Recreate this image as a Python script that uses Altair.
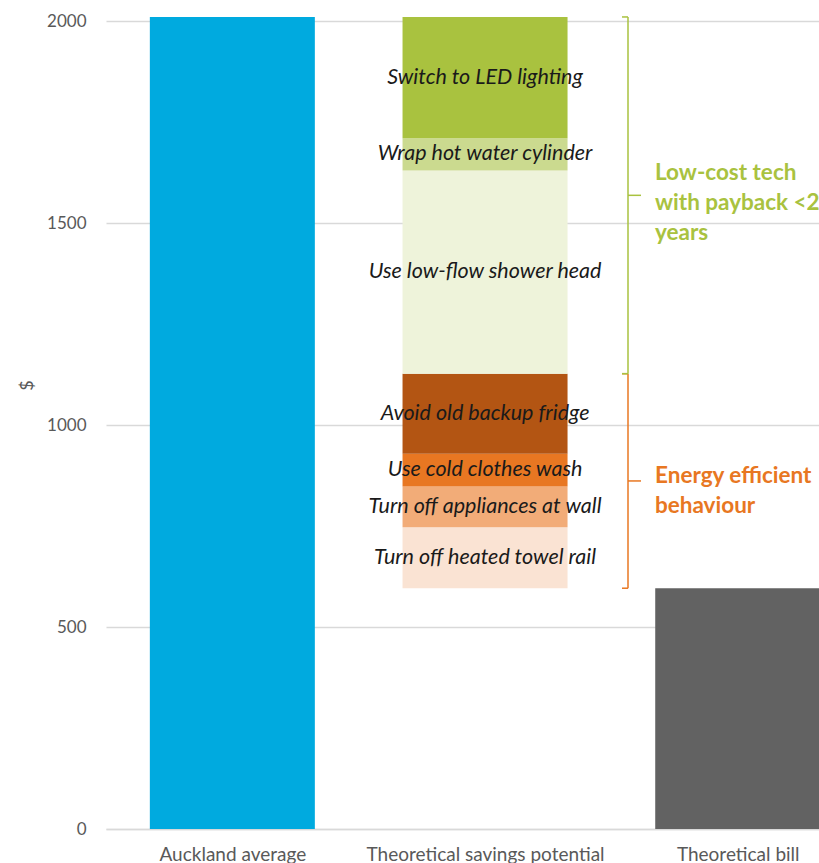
import altair as alt
import pandas as pd

# ---- data ----
categories = ["Auckland average", "Theoretical savings potential", "Theoretical bill"]
auckland_average = 2010
theoretical_bill = 596
actions = [
    "Turn off heated towel rail",
    "Turn off appliances at wall",
    "Use cold clothes wash",
    "Avoid old backup fridge",
    "Use low-flow shower head",
    "Wrap hot water cylinder",
    "Switch to LED lighting",
]
savings = [151, 101, 81, 198, 503, 80, 300]
action_colors = ["#FAE3D3", "#F2AC78", "#E87722", "#B35513", "#EEF3DA", "#CBDA8F", "#A9C23F"]
groups = ["Energy efficient\nbehaviour", "Low-cost tech\nwith payback <2\nyears"]
group_sizes = [4, 3]
group_colors = ["#E87722", "#A9C23F"]

# ---- tables ----
rows = [
    dict(idx=0, lo=0, hi=auckland_average, color="#00AADF", label=""),
    dict(idx=2, lo=0, hi=theoretical_bill, color="#626262", label=""),
]
base = theoretical_bill
for a, v, c in zip(actions, savings, action_colors):
    rows.append(dict(idx=1, lo=base, hi=base + v, color=c, label=a))
    base += v
bars = pd.DataFrame(rows)
bars["x0"] = bars["idx"] - 0.3265
bars["x1"] = bars["idx"] + 0.3265
bars["mid"] = (bars["lo"] + bars["hi"]) / 2
seg = bars[bars["label"] != ""]

grows = []
start = theoretical_bill
k = 0
for g, n, c in zip(groups, group_sizes, group_colors):
    end = start + sum(savings[k:k + n])
    grows.append(dict(group=g, lo=start, hi=end, mid=(start + end) / 2, color=c))
    start = end
    k += n
gdf = pd.DataFrame(grows)

xscale = alt.Scale(domain=[-0.5, 2.3216], nice=False, zero=False)
yscale = alt.Scale(domain=[0, 2000], nice=False)

label_expr = "[" + ",".join('"%s"' % c for c in categories) + "][datum.value]"

barlayer = alt.Chart(bars).mark_bar().encode(
    x=alt.X("x0:Q", scale=xscale,
            axis=alt.Axis(values=[0, 1, 2], labelExpr=label_expr, title=None, ticks=False,
                          grid=False, domainColor="#D9D9D9", domainWidth=1.3,
                          labelColor="#595959", labelFontSize=19, labelFont="Lato",
                          labelPadding=16, labelLimit=0, labelOverlap=False)),
    x2="x1:Q",
    y=alt.Y("lo:Q", scale=yscale,
            axis=alt.Axis(values=[0, 500, 1000, 1500, 2000], format="d", title="$", ticks=False,
                          domain=False, gridColor="#D9D9D9", gridWidth=1.3, labelColor="#595959",
                          labelFontSize=17, labelFont="Lato", labelPadding=20,
                          titleColor="#595959", titleFont="Lato", titleFontSize=18,
                          titleFontWeight="normal", titleX=-70, titleY=364)),
    y2="hi:Q",
    color=alt.Color("color:N", scale=None),
)

seglabels = alt.Chart(seg).mark_text(
    font="Lato", fontStyle="italic", fontSize=21.5, color="#1A1A1A", baseline="middle"
).encode(
    x=alt.X("idx:Q", scale=xscale),
    y=alt.Y("mid:Q", scale=yscale),
    text="label:N",
)

layers = [barlayer, seglabels]
for i, row in gdf.iterrows():
    one = gdf.iloc[[i]]
    c = row["color"]
    layers.append(alt.Chart(one).mark_rule(color=c, strokeWidth=1.5).encode(
        x=alt.value(522), y=alt.Y("lo:Q", scale=yscale), y2="hi:Q"))
    layers.append(alt.Chart(one).mark_rule(color=c, strokeWidth=1.5).encode(
        x=alt.value(516), x2=alt.value(522), y=alt.Y("lo:Q", scale=yscale)))
    layers.append(alt.Chart(one).mark_rule(color=c, strokeWidth=1.5).encode(
        x=alt.value(516), x2=alt.value(522), y=alt.Y("hi:Q", scale=yscale)))
    layers.append(alt.Chart(one).mark_rule(color=c, strokeWidth=1.5).encode(
        x=alt.value(522), x2=alt.value(535), y=alt.Y("mid:Q", scale=yscale)))
    layers.append(alt.Chart(one).mark_text(
        font="Lato", fontWeight="bold", fontSize=22.5, color=c, align="left",
        baseline="middle", lineBreak="\n", lineHeight=30, dy=(-5 if i == 0 else -22)
    ).encode(x=alt.value(549), y=alt.Y("mid:Q", scale=yscale), text="group:N"))

chart = alt.layer(*layers).properties(
    width=713, height=808,
    autosize=alt.AutoSizeParams(type="none"),
    padding={"left": 106, "top": 21, "right": 0, "bottom": 34},
    background="white",
).configure_view(stroke=None)

chart.save("out.html", embed_options={"renderer": "svg", "actions": False})
